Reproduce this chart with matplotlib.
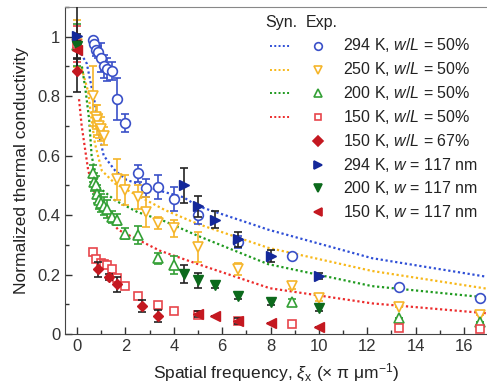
import matplotlib
matplotlib.use("Agg")
import matplotlib.pyplot as plt
from matplotlib.ticker import MultipleLocator, FuncFormatter

plt.rcParams['font.family'] = ['Liberation Sans', 'DejaVu Sans']
plt.rcParams['mathtext.fontset'] = 'custom'
plt.rcParams['mathtext.rm'] = 'Liberation Sans'
plt.rcParams['mathtext.it'] = 'Liberation Sans:italic'

# ---- synthetic (dotted) curves ----
syn294_x = [0.16, 0.4, 0.6, 0.74, 0.88, 1.1, 1.57, 2.05, 3.5, 4.4, 5.0, 7.14, 7.9, 12.2, 16.9]
syn294_y = [0.943, 0.91, 0.83, 0.775, 0.68, 0.60, 0.55, 0.518, 0.48, 0.46, 0.43, 0.372, 0.351, 0.255, 0.193]
syn250_x = [0.19, 0.46, 0.6, 0.74, 1.02, 1.57, 3.63, 5.0, 7.9, 12.2, 16.9]
syn250_y = [0.893, 0.815, 0.72, 0.64, 0.55, 0.506, 0.417, 0.37, 0.29, 0.212, 0.153]
syn200_x = [0.2, 0.35, 0.5, 0.6, 0.88, 1.56, 2.5, 3.6, 5.0, 7.9, 12.2, 16.9]
syn200_y = [0.90, 0.82, 0.72, 0.60, 0.495, 0.45, 0.41, 0.38, 0.33, 0.235, 0.161, 0.123]
syn150_x = [0.08, 0.19, 0.46, 0.88, 1.71, 3.43, 5.0, 7.97, 12.2, 16.9]
syn150_y = [0.79, 0.70, 0.55, 0.43, 0.35, 0.28, 0.235, 0.154, 0.103, 0.07]

# ---- experiments, w/L = 50 % ----
e294_x = [0.67, 0.71, 0.8, 0.87, 1.0, 1.11, 1.25, 1.43, 1.67, 2.0, 2.5, 2.86, 3.33, 4.0, 5.0, 6.67, 8.89, 13.33, 16.67]
e294_y = [0.99, 0.975, 0.955, 0.95, 0.93, 0.90, 0.89, 0.885, 0.79, 0.71, 0.54, 0.49, 0.495, 0.455, 0.40, 0.31, 0.262, 0.157, 0.121]
e294_e = [0, 0, 0.02, 0.02, 0.05, 0.04, 0.04, 0.03, 0.07, 0.03, 0.03, 0.03, 0.04, 0.04, 0.03, 0.02, 0.01, 0, 0]

e250_x = [0, 0.67, 0.77, 0.83, 0.91, 1.0, 1.11, 1.67, 2.0, 2.5, 2.86, 3.33, 4.0, 5.0, 6.67, 8.89, 10.0, 13.33, 16.67]
e250_y = [0.977, 0.80, 0.73, 0.72, 0.70, 0.69, 0.665, 0.52, 0.485, 0.46, 0.41, 0.372, 0.355, 0.293, 0.22, 0.16, 0.12, 0.09, 0.065]
e250_e = [0.08, 0.1, 0.04, 0.05, 0.04, 0.04, 0.03, 0.07, 0.05, 0.04, 0.05, 0.02, 0.03, 0.05, 0.02, 0.01, 0.01, 0, 0]

e200_x = [0, 0.67, 0.71, 0.77, 0.83, 0.91, 1.0, 1.11, 1.25, 1.43, 1.67, 2.0, 2.5, 3.33, 4.0, 8.89, 13.33, 16.67]
e200_y = [0.972, 0.54, 0.51, 0.50, 0.47, 0.45, 0.44, 0.43, 0.42, 0.395, 0.385, 0.338, 0.333, 0.254, 0.232, 0.109, 0.053, 0.041]
e200_e = [0.07, 0.03, 0.03, 0.03, 0.03, 0.03, 0.03, 0.03, 0.03, 0.02, 0.02, 0.02, 0.03, 0.02, 0.03, 0.01, 0, 0]

e150_x = [0, 0.67, 0.8, 1.0, 1.11, 1.25, 1.43, 1.67, 2.0, 2.5, 3.33, 4.0, 5.0, 6.67, 8.89, 13.33, 16.67]
e150_y = [0.975, 0.275, 0.252, 0.24, 0.235, 0.232, 0.218, 0.19, 0.161, 0.129, 0.097, 0.077, 0.064, 0.045, 0.032, 0.019, 0.016]
e150_e = [0.06, 0.01, 0.01, 0.01, 0.01, 0.01, 0.01, 0.01, 0.01, 0.01, 0.01, 0, 0, 0, 0, 0, 0]

# ---- experiments, w/L = 67 % ----
e150b_x = [0, 0.88, 1.33, 1.67, 2.67, 3.33]
e150b_y = [0.885, 0.217, 0.193, 0.167, 0.094, 0.062]
e150b_e = [0.07, 0.025, 0.01, 0.025, 0.02, 0.02]

# ---- experiments, w = 117 nm ----
w294_x = [0, 4.44, 5.0, 5.71, 6.67, 8.0, 10.0]
w294_y = [1.003, 0.50, 0.43, 0.385, 0.318, 0.262, 0.195]
w294_e = [0.12, 0.06, 0.035, 0.03, 0.025, 0.02, 0.01]
w200_x = [0, 4.44, 5.0, 5.71, 6.67, 8.0, 10.0]
w200_y = [0.97, 0.202, 0.18, 0.165, 0.128, 0.108, 0.087]
w200_e = [0.04, 0.03, 0.025, 0.01, 0.01, 0.01, 0.01]
w150_x = [0, 5.0, 5.71, 6.67, 8.0, 10.0]
w150_y = [0.955, 0.066, 0.062, 0.045, 0.038, 0.025]
w150_e = [0.03, 0.01, 0, 0.01, 0, 0]

labels = ['294 K, $w/L$ = 50%', '250 K, $w/L$ = 50%', '200 K, $w/L$ = 50%',
          '150 K, $w/L$ = 50%', '150 K, $w/L$ = 67%', '294 K, $w$ = 117 nm',
          '200 K, $w$ = 117 nm', '150 K, $w$ = 117 nm']

c_blue, c_orange, c_green, c_red = '#3a50c8', '#f5b52a', '#34a036', '#e8454c'
c_navy, c_dgreen, c_dred = '#14289a', '#0c6a1c', '#c41820'
l_blue, l_orange, l_green, l_red = '#2f4fd6', '#f7b81a', '#1f9a1f', '#ec2c2c'

fig = plt.figure(figsize=(4.87, 3.89), dpi=100)
ax = fig.add_axes([65 / 487, 1 - 334 / 389, 422 / 487, 327 / 389])

# dotted synthetic curves
for xs, ys, c in [(syn294_x, syn294_y, l_blue), (syn250_x, syn250_y, l_orange),
                  (syn200_x, syn200_y, l_green), (syn150_x, syn150_y, l_red)]:
    ax.plot(xs, ys, ls=(0, (1, 1.2)), color=c, lw=1.6, zorder=2)

# open experimental markers
open_sets = [
    (e294_x, e294_y, e294_e, 'o', c_blue, 7),
    (e250_x, e250_y, e250_e, 'v', c_orange, 7.5),
    (e200_x, e200_y, e200_e, '^', c_green, 7.5),
    (e150_x, e150_y, e150_e, 's', c_red, 5.5),
]
for xs, ys, es, m, c, ms in open_sets:
    ax.errorbar(xs, ys, yerr=es, fmt=m, mfc='white', mec=c, ecolor=c, ms=ms,
                mew=1.2, elinewidth=1.2, capsize=3, capthick=1.2, zorder=3)

# filled experimental markers (black error bars)
filled_sets = [
    (e150b_x, e150b_y, e150b_e, 'D', c_dred, 5),
    (w294_x, w294_y, w294_e, '>', c_navy, 6.5),
    (w200_x, w200_y, w200_e, 'v', c_dgreen, 6.5),
    (w150_x, w150_y, w150_e, '<', c_dred, 6.5),
]
for xs, ys, es, m, c, ms in filled_sets:
    ax.errorbar(xs, ys, yerr=es, fmt=m, mfc=c, mec=c, ecolor='#222222', ms=ms,
                elinewidth=1.2, capsize=3, capthick=1.2, zorder=4)

ax.set_xlim(-0.5, 16.95)
ax.set_ylim(0, 1.1)
ax.xaxis.set_major_locator(MultipleLocator(2))
ax.xaxis.set_minor_locator(MultipleLocator(1))
ax.yaxis.set_major_locator(MultipleLocator(0.2))
ax.yaxis.set_minor_locator(MultipleLocator(0.1))
ax.yaxis.set_major_formatter(FuncFormatter(lambda v, p: '%g' % round(v, 2)))
ax.tick_params(which='both', direction='in', colors='#333333', labelsize=12,
               top=False, right=False)
ax.tick_params(which='major', length=5, width=1)
ax.tick_params(which='minor', length=3, width=1)
ax.spines['right'].set_visible(False)
for s in ['left', 'bottom']:
    ax.spines[s].set_color('#444444')
ax.spines['top'].set_color('#888888')

ax.set_xlabel('Spatial frequency, $\\xi_\\mathrm{x}$ (× π μm$^{\\mathrm{-1}}$)',
              fontsize=12.5, color='#222222', labelpad=6)
ax.set_ylabel('Normalized thermal conductivity', fontsize=12.5, color='#222222',
              labelpad=6)

# manual two-column legend (Syn. / Exp.)
def axpt(px, py):
    return (px - 65) / 422, (334 - py) / 327

tr = ax.transAxes
hx, hy = axpt(281, 22)
ax.text(hx, hy, 'Syn.', transform=tr, ha='center', va='center', fontsize=11.5, color='#222222')
hx, hy = axpt(322, 22)
ax.text(hx, hy, 'Exp.', transform=tr, ha='center', va='center', fontsize=11.5, color='#222222')

row_y = [45.5, 69.5, 93, 117, 141, 164.5, 188, 212]
leg_lines = [l_blue, l_orange, l_green, l_red, None, None, None, None]
leg_marks = [('o', c_blue, False, 5.5), ('v', c_orange, False, 6), ('^', c_green, False, 6),
             ('s', c_red, False, 4.5), ('D', c_dred, True, 5), ('>', c_navy, True, 6),
             ('v', c_dgreen, True, 6), ('<', c_dred, True, 6)]
for ry, lc, (m, mc, filled, ms), lab in zip(row_y, leg_lines, leg_marks, labels):
    x0, y0 = axpt(270, ry)
    x1, _ = axpt(291, ry)
    if lc:
        ax.plot([x0, x1], [y0, y0], transform=tr, ls=(0, (1, 1.2)), color=lc, lw=1.4,
                clip_on=False)
    mx, _ = axpt(318, ry)
    ax.plot([mx], [y0], m, transform=tr, ms=ms, mec=mc, mfc=mc if filled else 'white',
            mew=1.2, clip_on=False)
    tx, _ = axpt(343, ry)
    ax.text(tx, y0, lab, transform=tr, ha='left', va='center', fontsize=11.5, color='#222222')

fig.savefig('out.png', dpi=100)
